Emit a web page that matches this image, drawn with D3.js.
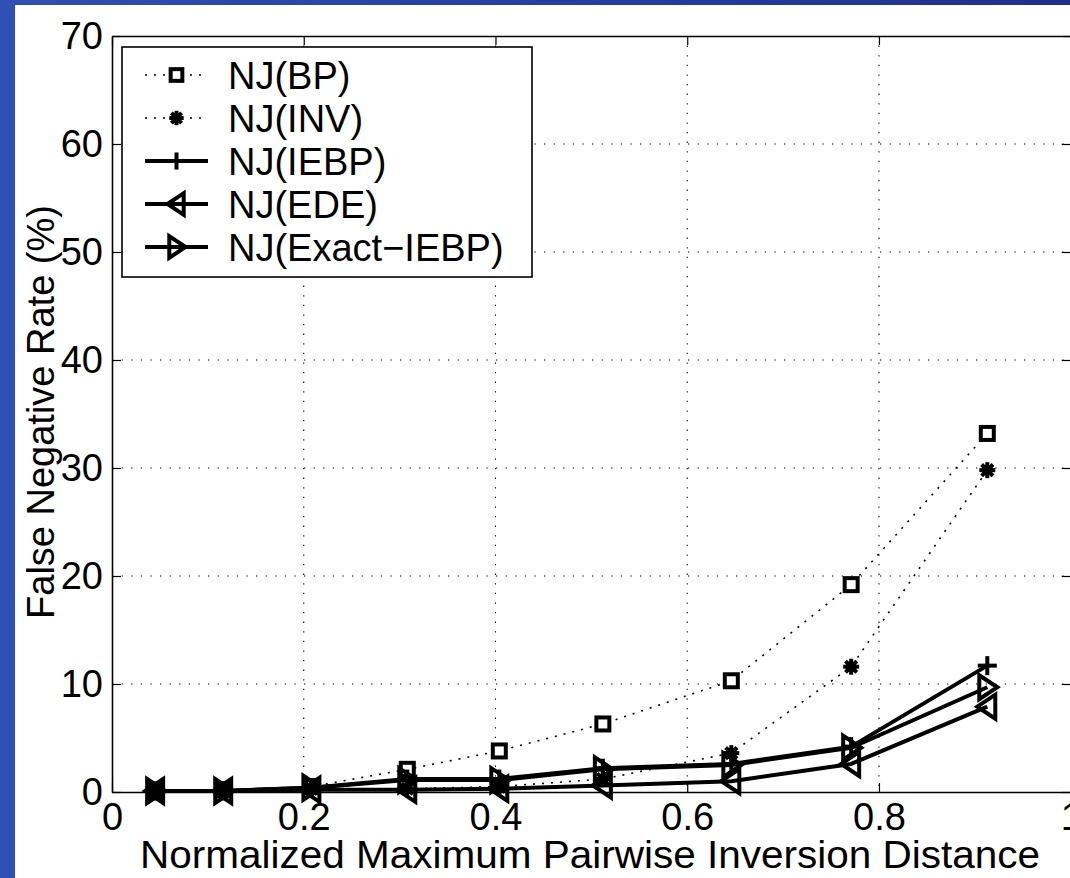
<!DOCTYPE html>
<html>
<head>
<meta charset="utf-8">
<script src="https://cdn.jsdelivr.net/npm/d3@7"></script>
<style>
  body { margin: 0; background: #ffffff; }
  svg { display: block; }
  text { font-family: "Liberation Sans", Arial, Helvetica, sans-serif; fill: #000; }
</style>
</head>
<body>
<svg id="chart" width="1070" height="878"></svg>
<script>
// Normalized maximum pairwise inversion distance of each test set
const distances = [0.045, 0.116, 0.208, 0.308, 0.404, 0.512, 0.646, 0.771, 0.913];

// False negative rate (%) for each method
const njBP        = [0.1, 0.2, 0.5, 2.1, 3.8, 6.3, 10.3, 19.2, 33.2];
const njINV       = [0.1, 0.1, 0.3, 0.3, 0.5, 1.2, 3.6, 11.6, 29.8];
const njIEBP      = [0.1, 0.1, 0.4, 1.2, 1.2, 2.2, 2.6, 4.2, 11.7];
const njEDE       = [0.1, 0.1, 0.2, 0.2, 0.3, 0.6, 1.0, 2.6, 7.9];
const njExactIEBP = [0.1, 0.1, 0.4, 1.1, 1.1, 2.1, 2.5, 4.1, 9.7];

const seriesNames = ["NJ(BP)", "NJ(INV)", "NJ(IEBP)", "NJ(EDE)", "NJ(Exact\u2212IEBP)"];

const xTickValues = [0, 0.2, 0.4, 0.6, 0.8, 1];
const xTickLabels = ["0", "0.2", "0.4", "0.6", "0.8", "1"];
const yTickValues = [0, 10, 20, 30, 40, 50, 60, 70];

const xTitle = "Normalized Maximum Pairwise Inversion Distance";
const yTitle = "False Negative Rate (%)";

const series = [
  { name: seriesNames[0], values: njBP,        dotted: true,  marker: "square" },
  { name: seriesNames[1], values: njINV,       dotted: true,  marker: "asterisk" },
  { name: seriesNames[2], values: njIEBP,      dotted: false, marker: "plus" },
  { name: seriesNames[3], values: njEDE,       dotted: false, marker: "triLeft" },
  { name: seriesNames[4], values: njExactIEBP, dotted: false, marker: "triRight" }
];

const W = 1070, H = 878;
const plot = { left: 112, right: 1070.7, top: 36, bottom: 792 };

const svg = d3.select("#chart");

// slide frame: blue strips along the left and top edges
const defs = svg.append("defs");
const grad = defs.append("linearGradient").attr("id", "topband").attr("x1", 0).attr("x2", 1).attr("y1", 0).attr("y2", 0);
grad.append("stop").attr("offset", 0).attr("stop-color", "#2f4fb1");
grad.append("stop").attr("offset", 1).attr("stop-color", "#1e2f8e");
svg.append("rect").attr("x", 0).attr("y", 0).attr("width", W).attr("height", H).attr("fill", "#ffffff");
svg.append("rect").attr("x", 0).attr("y", 0).attr("width", W).attr("height", 5).attr("fill", "url(#topband)");
svg.append("rect").attr("x", 0).attr("y", 0).attr("width", 15).attr("height", H).attr("fill", "#2f4fb1");

const x = d3.scaleLinear().domain([0, 1]).range([plot.left, plot.right]);
const y = d3.scaleLinear().domain([0, 70]).range([plot.bottom, plot.top]);

const g = svg.append("g");

// dotted grid
g.append("g").selectAll("line").data(xTickValues.filter(v => v > 0 && v < 1)).join("line")
  .attr("x1", d => x(d)).attr("x2", d => x(d))
  .attr("y1", plot.top).attr("y2", plot.bottom)
  .attr("stroke", "#000").attr("stroke-width", 1.1).attr("stroke-dasharray", "1.3 8.3");
g.append("g").selectAll("line").data(yTickValues.filter(v => v > 0 && v < 70)).join("line")
  .attr("x1", plot.left).attr("x2", plot.right)
  .attr("y1", d => y(d)).attr("y2", d => y(d))
  .attr("stroke", "#000").attr("stroke-width", 1.1).attr("stroke-dasharray", "1.3 8.3");

// axes with inward ticks on all four sides
const tickLen = 9;
const axB = d3.axisBottom(x).tickValues(xTickValues).tickFormat((d, i) => xTickLabels[i]).tickSizeInner(-tickLen).tickSizeOuter(0).tickPadding(11);
const axL = d3.axisLeft(y).tickValues(yTickValues).tickFormat(d3.format("d")).tickSizeInner(-tickLen).tickSizeOuter(0).tickPadding(9);
const axT = d3.axisTop(x).tickValues(xTickValues).tickFormat("").tickSizeInner(-tickLen).tickSizeOuter(0);
const axR = d3.axisRight(y).tickValues(yTickValues).tickFormat("").tickSizeInner(-tickLen).tickSizeOuter(0);

function styleAxis(sel) {
  sel.select(".domain").attr("stroke", "#000").attr("stroke-width", 1.6);
  sel.selectAll(".tick line").attr("stroke", "#000").attr("stroke-width", 1.2);
  sel.selectAll(".tick text").attr("font-size", 38).attr("font-family", "Liberation Sans, Arial, sans-serif").attr("fill", "#000");
}
g.append("g").attr("transform", `translate(0,${plot.bottom})`).call(axB).call(styleAxis);
g.append("g").attr("transform", `translate(${plot.left},0)`).call(axL).call(styleAxis);
g.append("g").attr("transform", `translate(0,${plot.top})`).call(axT).call(styleAxis);
g.append("g").attr("transform", `translate(${plot.right},0)`).call(axR).call(styleAxis);

// axis titles
svg.append("text").attr("x", 140).attr("y", 868)
  .attr("font-size", 38).attr("textLength", 900).attr("lengthAdjust", "spacingAndGlyphs").text(xTitle);
svg.append("text").attr("transform", "translate(54,412) rotate(-90)")
  .attr("text-anchor", "middle").attr("font-size", 38).text(yTitle);

// marker drawing
function drawMarker(sel, type, cx, cy, scale) {
  const k = scale || 1;
  const s = sel.append("g").attr("transform", `translate(${cx},${cy})`);
  const sw = 4;
  const apply = el => el.attr("stroke", "#000").attr("stroke-width", sw).attr("fill", "none").attr("stroke-linejoin", "miter");
  if (type === "square") {
    apply(s.append("rect").attr("x", -6.5 * k).attr("y", -6.5 * k).attr("width", 13 * k).attr("height", 13 * k)).attr("fill", "#fff");
  } else if (type === "asterisk") {
    const r = 8 * k;
    [0, 45, 90, 135].forEach(a => {
      const t = a * Math.PI / 180;
      apply(s.append("line").attr("x1", -r * Math.cos(t)).attr("y1", -r * Math.sin(t))
        .attr("x2", r * Math.cos(t)).attr("y2", r * Math.sin(t)));
    });
    s.append("circle").attr("r", 5.5 * k).attr("fill", "#000");
  } else if (type === "plus") {
    const r = 9.5 * k;
    apply(s.append("line").attr("x1", -r).attr("x2", r).attr("y1", 0).attr("y2", 0));
    apply(s.append("line").attr("x1", 0).attr("x2", 0).attr("y1", -r).attr("y2", r));
  } else if (type === "triLeft") {
    apply(s.append("path").attr("d", `M${-10 * k},0 L${8 * k},${-12 * k} L${8 * k},${12 * k} Z`));
  } else if (type === "triRight") {
    apply(s.append("path").attr("d", `M${10 * k},0 L${-8 * k},${-12 * k} L${-8 * k},${12 * k} Z`));
  }
}

const line = d3.line().x((d, i) => x(distances[i])).y(d => y(d));

const dataLayer = svg.append("g");
series.forEach(sr => {
  dataLayer.append("path").datum(sr.values).attr("d", line)
    .attr("fill", "none").attr("stroke", "#000")
    .attr("stroke-width", sr.dotted ? 1.6 : 4)
    .attr("stroke-dasharray", sr.dotted ? "2 7" : null)
    .attr("stroke-linejoin", "round");
  sr.values.forEach((v, i) => drawMarker(dataLayer, sr.marker, x(distances[i]), y(v), 1));
});

// legend
const lg = svg.append("g");
lg.append("rect").attr("x", 122).attr("y", 47).attr("width", 410).attr("height", 230)
  .attr("fill", "#fff").attr("stroke", "#000").attr("stroke-width", 1.6);
series.forEach((sr, i) => {
  const ry = 75 + i * 43;
  lg.append("line").attr("x1", 145).attr("x2", 208).attr("y1", ry).attr("y2", ry)
    .attr("stroke", "#000").attr("stroke-width", sr.dotted ? 1.6 : 4)
    .attr("stroke-dasharray", sr.dotted ? "2 7" : null);
  drawMarker(lg, sr.marker, 176.5, ry, 0.9);
  lg.append("text").attr("x", 228).attr("y", ry).attr("dy", "0.36em")
    .attr("font-size", 38).text(sr.name);
});
</script>
</body>
</html>
